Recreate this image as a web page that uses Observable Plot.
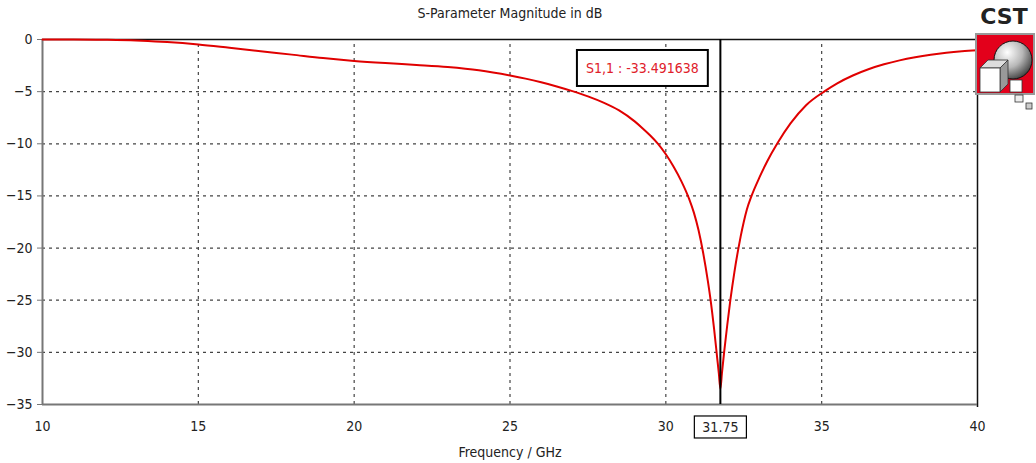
<!DOCTYPE html>
<html>
<head>
<meta charset="utf-8">
<script src="https://cdn.jsdelivr.net/npm/d3@7"></script>
<script src="https://cdn.jsdelivr.net/npm/@observablehq/plot@0.6"></script>
<style>
  html, body { margin: 0; padding: 0; background: #fff; }
  #wrap { position: relative; width: 1036px; height: 463px; overflow: hidden; }
  #logo { position: absolute; left: 966px; top: 0; }
</style>
</head>
<body>
<div id="wrap"></div>
<script>
const freq = [10, 11, 12, 13, 13.5, 14, 15, 16, 17, 18, 19, 20, 21, 22, 23, 24, 25, 25.5, 26, 26.5, 27, 27.5, 28, 28.5, 29, 29.25, 29.5, 29.75, 30, 30.25, 30.5, 30.75, 30.9, 31.05, 31.2, 31.35, 31.45, 31.55, 31.65, 31.7, 31.75, 31.8, 31.87, 31.97, 32.07, 32.2, 32.33, 32.4, 32.5, 32.6, 32.75, 33, 33.25, 33.57, 34, 34.5, 35.1, 35.5, 36, 36.5, 37, 37.5, 38, 38.5, 39, 39.5, 40];
const s11 = [0, 0, -0.03, -0.1, -0.17, -0.25, -0.48, -0.8, -1.13, -1.45, -1.78, -2.05, -2.26, -2.44, -2.64, -2.95, -3.45, -3.75, -4.1, -4.5, -4.95, -5.45, -6.05, -6.8, -7.85, -8.5, -9.2, -10.0, -11.0, -12.2, -13.6, -15.3, -16.6, -18.3, -20.5, -23.2, -25.3, -27.8, -30.6, -32.0, -33.491638, -32.0, -30.0, -27.4, -25.0, -22.3, -20.0, -18.9, -17.5, -16.3, -15.0, -13.25, -11.7, -10.0, -8.05, -6.3, -4.95, -4.2, -3.45, -2.85, -2.38, -2.0, -1.7, -1.46, -1.27, -1.13, -1.03];
const xTicks = [10, 15, 20, 25, 30, 35, 40];
const yTicks = [0, -5, -10, -15, -20, -25, -30, -35];
const xGrid = [15, 20, 25, 30, 35];
const yGrid = [-5, -10, -15, -20, -25, -30];
const markerX = 31.75;
const markerY = -33.491638;
const markerText = "S1,1 : -33.491638";
const markerXLabel = "31.75";
const title = "S-Parameter Magnitude in dB";
const xLabel = "Frequency / GHz";

const data = freq.map((f, i) => ({f, v: s11[i]}));
const FONT = "'DejaVu Sans Condensed', 'DejaVu Sans', sans-serif";

const chart = Plot.plot({
  width: 1036,
  height: 463,
  marginLeft: 42,
  marginRight: 59,
  marginTop: 39,
  marginBottom: 59,
  style: {fontFamily: FONT, fontSize: "14px", background: "#fff", color: "#222", fontStretch: "condensed"},
  x: {domain: [10, 40]},
  y: {domain: [-35, 0]},
  marks: [
    Plot.ruleX(xGrid, {stroke: "#444", strokeDasharray: "3,4", strokeWidth: 1.2, y1: -35, y2: 0, insetBottom: -2}),
    Plot.ruleY(yGrid, {stroke: "#444", strokeDasharray: "3,4", strokeWidth: 1.2}),
    Plot.ruleY([0], {stroke: "#111", strokeWidth: 1.5}),
    Plot.ruleX([40], {stroke: "#111", strokeWidth: 1.5, insetBottom: -3}),
    Plot.ruleX([10], {stroke: "#777", strokeWidth: 2}),
    Plot.ruleY([-35], {stroke: "#777", strokeWidth: 2}),
    Plot.axisY({ticks: yTicks, tickSize: 5, tickPadding: 5, stroke: "#777", label: null, fill: "#222"}),
    Plot.axisX({ticks: xTicks, tickSize: 0, tickPadding: 17, label: null, fill: "#222"}),
    Plot.line(data, {x: "f", y: "v", stroke: "#e00000", strokeWidth: 2, curve: "monotone-x"}),
    Plot.ruleX([markerX], {stroke: "#000", strokeWidth: 2}),
    Plot.text([markerText], {x: markerX, y: 0, dx: -78, dy: 29, fill: "#e0202a", fontSize: 14, className: "mlabel"}),
    Plot.text([markerXLabel], {x: markerX, y: -35, dy: 23, fill: "#222", fontSize: 14, className: "xlabel"}),
    Plot.text([title], {frameAnchor: "top", dy: -31, fill: "#222", fontSize: 14}),
    Plot.text([xLabel], {frameAnchor: "bottom", dy: 52, fill: "#222", fontSize: 14})
  ]
});

document.getElementById("wrap").appendChild(chart);

// boxes around marker labels
function boxAround(cls, padX, padY, sw) {
  const g = chart.querySelector("g." + cls);
  if (!g) return;
  const t = g.querySelector("text");
  const b = t.getBBox();
  const r = document.createElementNS("http://www.w3.org/2000/svg", "rect");
  r.setAttribute("x", b.x - padX);
  r.setAttribute("y", b.y - padY);
  r.setAttribute("width", b.width + 2 * padX);
  r.setAttribute("height", b.height + 2 * padY);
  r.setAttribute("fill", "#fff");
  r.setAttribute("stroke", "#000");
  r.setAttribute("stroke-width", sw);
  const tr = t.getAttribute("transform");
  if (tr) r.setAttribute("transform", tr);
  g.insertBefore(r, g.firstChild);
}
boxAround("mlabel", 9, 10, 2);
boxAround("xlabel", 8, 3, 1.2);

// CST logo (decorative)
const logo = document.createElement("div");
logo.id = "logo";
logo.innerHTML = `
<svg width="70" height="115" xmlns="http://www.w3.org/2000/svg">
  <defs>
    <radialGradient id="sph" cx="0.35" cy="0.3" r="0.8">
      <stop offset="0" stop-color="#ffffff"/>
      <stop offset="0.5" stop-color="#b8b8b8"/>
      <stop offset="1" stop-color="#303030"/>
    </radialGradient>
  </defs>
  <text x="38" y="24" text-anchor="middle" font-family="'DejaVu Sans', sans-serif" font-weight="bold" font-size="22" fill="#222">CST</text>
  <rect x="10" y="34" width="58" height="60" fill="#e3001b" stroke="#999" stroke-width="2"/>
  <circle cx="47" cy="60" r="19" fill="url(#sph)" stroke="#111" stroke-width="1"/>
  <polygon points="14,68 22,60 42,60 34,68" fill="#ddd" stroke="#333" stroke-width="0.8"/>
  <polygon points="34,68 42,60 42,84 34,92" fill="#999" stroke="#333" stroke-width="0.8"/>
  <rect x="14" y="68" width="20" height="24" fill="#fff" stroke="#333" stroke-width="0.8"/>
  <rect x="44" y="80" width="12" height="12" fill="#fff" stroke="#333" stroke-width="0.8"/>
  <rect x="49" y="95" width="8" height="7" fill="#eee" stroke="#333" stroke-width="0.8"/>
  <rect x="60" y="103" width="6" height="6" fill="#ccc" stroke="#333" stroke-width="0.8"/>
</svg>`;
document.getElementById("wrap").appendChild(logo);
</script>
</body>
</html>
